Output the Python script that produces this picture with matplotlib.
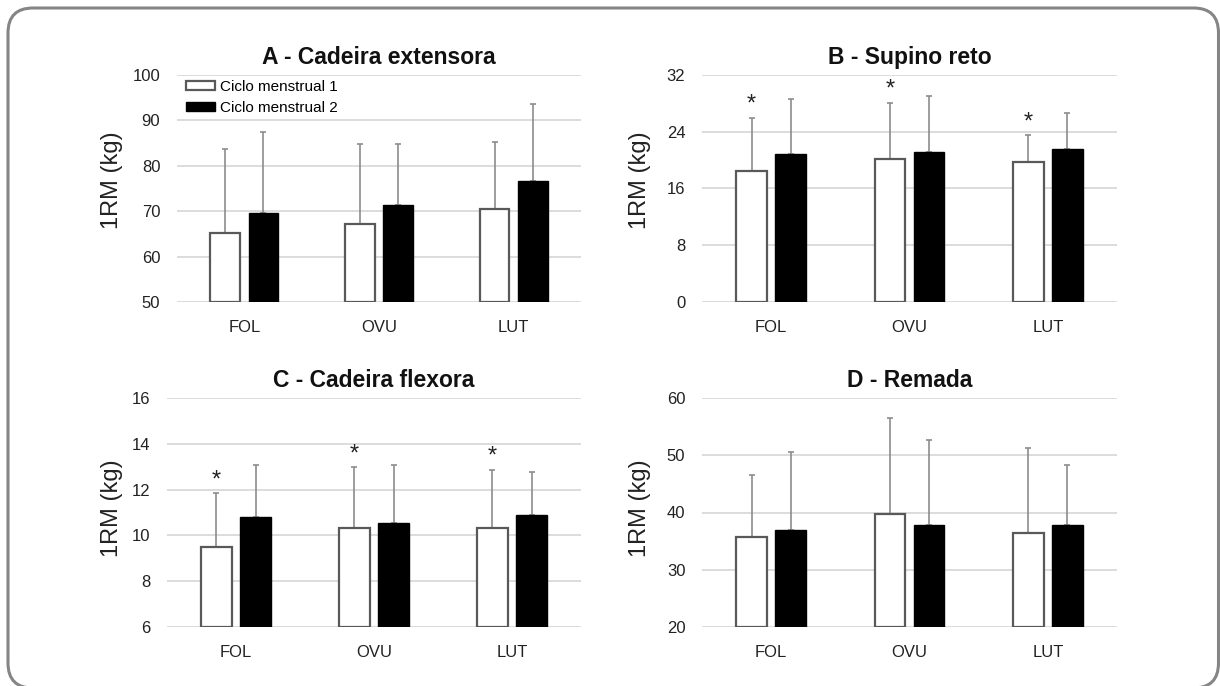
import matplotlib
matplotlib.use("Agg")
import matplotlib.pyplot as plt
from matplotlib.patches import FancyBboxPatch
from matplotlib.transforms import IdentityTransform
import numpy as np

plt.rcParams['font.family'] = ['Liberation Sans', 'DejaVu Sans']

categories = ["FOL", "OVU", "LUT"]
legend_labels = ["Ciclo menstrual 1", "Ciclo menstrual 2"]

# Panel A - Cadeira extensora
a_mean1 = [65.1, 67.1, 70.4]
a_sd1 = [18.7, 17.7, 14.9]
a_mean2 = [69.5, 71.3, 76.6]
a_sd2 = [17.9, 13.6, 17.0]

# Panel B - Supino reto
b_mean1 = [18.5, 20.1, 19.7]
b_sd1 = [7.5, 8.0, 3.8]
b_mean2 = [20.8, 21.2, 21.5]
b_sd2 = [7.8, 7.9, 5.1]

# Panel C - Cadeira flexora
c_mean1 = [9.49, 10.32, 10.32]
c_sd1 = [2.36, 2.65, 2.55]
c_mean2 = [10.8, 10.54, 10.87]
c_sd2 = [2.29, 2.55, 1.90]

# Panel D - Remada
d_mean1 = [35.7, 39.7, 36.4]
d_sd1 = [10.9, 16.8, 14.8]
d_mean2 = [36.9, 37.9, 37.9]
d_sd2 = [13.6, 14.7, 10.4]

W, H = 1220, 686
fig = plt.figure(figsize=(W / 100, H / 100), dpi=100)

# rounded border (display pixel coordinates, origin bottom-left)
border = FancyBboxPatch((8, -2), 1218.5 - 8, H - 8 + 2,
                        boxstyle="round,pad=0,rounding_size=25",
                        transform=IdentityTransform(), fill=False,
                        edgecolor="#858585", linewidth=2.2)
fig.patches.append(border)

panels = [
    dict(title="A - Cadeira extensora", m1=a_mean1, s1=a_sd1, m2=a_mean2, s2=a_sd2,
         ylim=(50, 100), ticks=[50, 60, 70, 80, 90, 100], stars=[False, False, False],
         box=(177, 75, 581, 302), ylx=123, yly=180, legend=True),
    dict(title="B - Supino reto", m1=b_mean1, s1=b_sd1, m2=b_mean2, s2=b_sd2,
         ylim=(0, 32), ticks=[0, 8, 16, 24, 32], stars=[True, True, True],
         box=(702, 75, 1117, 302), ylx=651, yly=180, legend=False),
    dict(title="C - Cadeira flexora", m1=c_mean1, s1=c_sd1, m2=c_mean2, s2=c_sd2,
         ylim=(6, 16), ticks=[6, 8, 10, 12, 14, 16], stars=[True, True, True],
         box=(167, 398, 581, 627), ylx=123, yly=508, legend=False),
    dict(title="D - Remada", m1=d_mean1, s1=d_sd1, m2=d_mean2, s2=d_sd2,
         ylim=(20, 60), ticks=[20, 30, 40, 50, 60], stars=[False, False, False],
         box=(702, 398, 1117, 627), ylx=651, yly=508, legend=False),
]

x = np.arange(len(categories))
bw = 0.222
off = 0.142

for p in panels:
    x0, y0, x1, y1 = p["box"]
    ax = fig.add_axes([x0 / W, 1 - y1 / H, (x1 - x0) / W, (y1 - y0) / H])
    base = p["ylim"][0]
    m1 = np.array(p["m1"]); m2 = np.array(p["m2"])
    s1 = np.array(p["s1"]); s2 = np.array(p["s2"])
    ax.bar(x - off, m1 - base, bw, bottom=base, color="white", edgecolor="#595959",
           linewidth=1.6, zorder=3, label=legend_labels[0])
    ax.bar(x + off, m2 - base, bw, bottom=base, color="black", edgecolor="black",
           linewidth=1.0, zorder=3, label=legend_labels[1])
    ax.errorbar(x - off, m1, yerr=[np.zeros(3), s1], fmt="none", ecolor="#8c8c8c",
                elinewidth=1.2, capsize=2.5, capthick=1.2, zorder=2)
    ax.errorbar(x + off, m2, yerr=[np.zeros(3), s2], fmt="none", ecolor="#8c8c8c",
                elinewidth=1.2, capsize=2.5, capthick=1.2, zorder=2)
    for i, st in enumerate(p["stars"]):
        if st:
            ax.annotate("*", (x[i] - off, m1[i] + s1[i]), xytext=(0, 5),
                        textcoords="offset points", ha="center", va="baseline",
                        fontsize=17, color="#222222", zorder=5)
    ax.set_xlim(-0.5, 2.5)
    ax.set_ylim(*p["ylim"])
    ax.set_yticks(p["ticks"])
    ax.set_xticks(x)
    ax.set_xticklabels(categories)
    ax.yaxis.grid(True, color="#d9d9d9", linewidth=1.3, zorder=0)
    ax.set_axisbelow(True)
    for s in ax.spines.values():
        s.set_visible(False)
    ax.tick_params(axis="both", length=0, labelsize=12, colors="#222222")
    ax.tick_params(axis="y", pad=12)
    ax.tick_params(axis="x", pad=13)
    ax.set_title(p["title"], fontsize=16.5, fontweight="bold", pad=8, color="#111111")
    ax.set_ylabel("1RM (kg)", fontsize=17, color="#222222")
    ax.yaxis.set_label_coords((p["ylx"] - x0) / (x1 - x0), (y1 - p["yly"]) / (y1 - y0))
    if p["legend"]:
        ax.legend(loc="upper left", bbox_to_anchor=((186 - x0) / (x1 - x0), 1 - 5 / (y1 - y0)),
                  frameon=False, fontsize=11, handlelength=1.9, handleheight=0.5,
                  handletextpad=0.35, labelspacing=0.46, borderpad=0, borderaxespad=0)

fig.savefig("out.png", dpi=100)
